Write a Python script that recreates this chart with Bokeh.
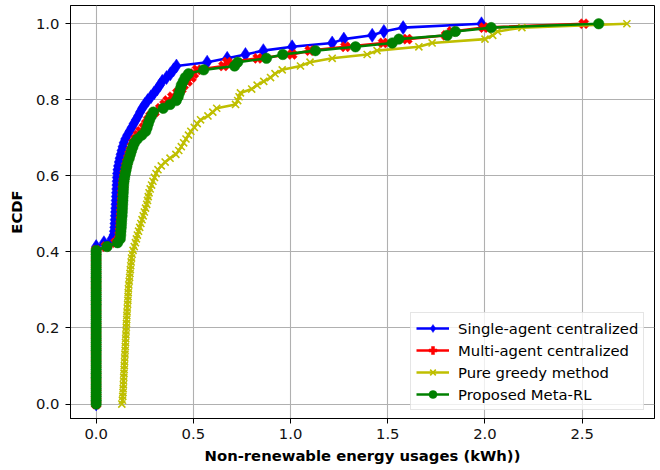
import numpy as np
from bokeh.plotting import figure
from bokeh.models import Legend, LegendItem, FixedTicker, Range1d, PrintfTickFormatter
from bokeh.embed import file_html
from bokeh.resources import INLINE

# Per-episode non-renewable energy usage samples (kWh), 100 per method
single_agent = [0.0] * 42 + [
    0.040, 0.080, 0.090, 0.092, 0.094, 0.095, 0.096, 0.097, 0.098, 0.099,
    0.100, 0.101, 0.102, 0.103, 0.104, 0.105, 0.106, 0.107, 0.108, 0.110,
    0.113, 0.117, 0.121, 0.126, 0.131, 0.136, 0.142, 0.150, 0.160, 0.172,
    0.183, 0.193, 0.205, 0.216, 0.226, 0.237, 0.250, 0.265, 0.282, 0.298,
    0.314, 0.327, 0.340, 0.362, 0.382, 0.398, 0.413, 0.571, 0.674, 0.768,
    0.860, 1.008, 1.214, 1.274, 1.420, 1.480, 1.579, 1.982]

multi_agent = [0.0] * 41 + [
    0.050, 0.100, 0.118, 0.121, 0.123, 0.125, 0.126, 0.127, 0.129,
    0.130, 0.131, 0.132, 0.133, 0.134, 0.135, 0.137, 0.139, 0.141, 0.144,
    0.147, 0.151, 0.155, 0.160, 0.166, 0.172, 0.178, 0.185, 0.193, 0.203,
    0.215, 0.228, 0.245, 0.258, 0.268, 0.280, 0.300, 0.330, 0.352, 0.368,
    0.392, 0.418, 0.438, 0.450, 0.470, 0.490, 0.502, 0.519, 0.655, 0.674,
    0.831, 1.008, 1.099, 1.282, 1.476, 1.600, 1.800, 1.830, 1.994, 2.508]

pure_greedy = [
    0.132, 0.135, 0.137, 0.138, 0.139, 0.140, 0.141, 0.142, 0.143, 0.144,
    0.145, 0.146, 0.147, 0.148, 0.149, 0.150, 0.151, 0.152, 0.153, 0.154,
    0.155, 0.156, 0.157, 0.158, 0.159, 0.160, 0.162, 0.163, 0.164, 0.165,
    0.166, 0.168, 0.170, 0.172, 0.174, 0.176, 0.178, 0.180, 0.182, 0.185,
    0.190, 0.196, 0.202, 0.207, 0.212, 0.218, 0.224, 0.230, 0.236, 0.242,
    0.248, 0.254, 0.260, 0.264, 0.268, 0.272, 0.278, 0.285, 0.292, 0.300,
    0.308, 0.318, 0.335, 0.355, 0.380, 0.410, 0.425, 0.438, 0.450, 0.462,
    0.475, 0.487, 0.505, 0.520, 0.537, 0.575, 0.600, 0.620, 0.717, 0.728,
    0.735, 0.742, 0.800, 0.828, 0.862, 0.897, 0.920, 0.957, 1.051, 1.100,
    1.214, 1.394, 1.445, 1.660, 1.728, 2.000, 2.040, 2.065, 2.190, 2.730]

meta_rl = [0.0] * 41 + [
    0.056, 0.110, 0.124, 0.126, 0.127, 0.129, 0.130, 0.131, 0.133,
    0.134, 0.135, 0.136, 0.137, 0.138, 0.139, 0.140, 0.141, 0.143, 0.146,
    0.150, 0.154, 0.158, 0.163, 0.170, 0.176, 0.182, 0.189, 0.197, 0.212,
    0.235, 0.255, 0.262, 0.268, 0.275, 0.284, 0.294, 0.345, 0.380, 0.412,
    0.422, 0.428, 0.433, 0.438, 0.448, 0.458, 0.475, 0.553, 0.712, 0.728,
    0.876, 0.960, 1.128, 1.334, 1.523, 1.557, 1.806, 1.848, 2.032, 2.585]

series_names = ["Single-agent centralized", "Multi-agent centralized",
                "Pure greedy method", "Proposed Meta-RL"]

x_ticks = [0.0, 0.5, 1.0, 1.5, 2.0, 2.5]
y_ticks = [0.0, 0.2, 0.4, 0.6, 0.8, 1.0]


def ecdf(samples):
    xs = np.sort(np.asarray(samples, dtype=float))
    ys = np.arange(len(xs)) / (len(xs) - 1)
    return xs, ys


FONT = "DejaVu Sans"
FONT_SIZE = "14.8px"

p = figure(width=660, height=470, output_backend="svg", toolbar_location=None,
           x_range=Range1d(-0.132, 2.872), y_range=Range1d(-0.038, 1.048),
           min_border_left=70, min_border_right=6, min_border_top=5,
           min_border_bottom=52)

p.background_fill_color = "white"
p.border_fill_color = "white"
p.outline_line_color = "black"
p.outline_line_width = 1

styles = [
    dict(color="#0000ff", marker="diamond", size=14, angle=0.0, lw=0),
    dict(color="#ff0000", marker="plus", size=10.5, angle=np.pi / 4, lw=0),
    dict(color="#bfbf00", marker="x", size=10, angle=0.0, lw=1.6),
    dict(color="#008000", marker="circle", size=10.5, angle=0.0, lw=0),
]

items = []
for samples, name, st in zip([single_agent, multi_agent, pure_greedy, meta_rl],
                             series_names, styles):
    xs, ys = ecdf(samples)
    ln = p.line(xs, ys, line_color=st["color"], line_width=2.6)
    if st["marker"] == "x":
        sc = p.scatter(xs, ys, marker="x", size=st["size"],
                       line_color=st["color"], line_width=st["lw"])
    else:
        sc = p.scatter(xs, ys, marker=st["marker"], size=st["size"],
                       angle=st["angle"], fill_color=st["color"],
                       line_color=st["color"], line_width=0.5)
    items.append(LegendItem(label=name, renderers=[ln, sc]))

legend = Legend(items=items, location=(340, 8))
legend.label_text_font = FONT
legend.label_text_font_size = FONT_SIZE
legend.label_text_color = "black"
legend.glyph_width = 33
legend.glyph_height = 20
legend.label_height = 20
legend.spacing = 2
legend.padding = 5
legend.margin = 0
legend.label_standoff = 9
legend.border_line_color = "#cccccc"
legend.border_line_width = 1
legend.background_fill_color = "white"
legend.background_fill_alpha = 0.8
p.add_layout(legend, "center")

p.xaxis.ticker = FixedTicker(ticks=x_ticks)
p.yaxis.ticker = FixedTicker(ticks=y_ticks)
p.xaxis.formatter = PrintfTickFormatter(format="%.1f")
p.yaxis.formatter = PrintfTickFormatter(format="%.1f")

p.xaxis.axis_label = "Non-renewable energy usages (kWh))"
p.yaxis.axis_label = "ECDF"

for ax in [p.xaxis[0], p.yaxis[0]]:
    ax.axis_line_color = "black"
    ax.axis_line_width = 1
    ax.major_tick_line_color = "black"
    ax.major_tick_out = 5
    ax.major_tick_in = 0
    ax.minor_tick_line_color = None
    ax.major_label_text_font = FONT
    ax.major_label_text_font_size = FONT_SIZE
    ax.major_label_text_color = "#111111"
    ax.axis_label_text_font = FONT
    ax.axis_label_text_font_size = FONT_SIZE
    ax.axis_label_text_font_style = "bold"
    ax.axis_label_text_color = "black"

p.xaxis.major_label_standoff = 5
p.xaxis.axis_label_standoff = 5
p.yaxis.major_label_standoff = 6
p.yaxis.axis_label_standoff = 8

p.xgrid.grid_line_color = "#b0b0b0"
p.ygrid.grid_line_color = "#b0b0b0"
p.xgrid.grid_line_width = 1.1
p.ygrid.grid_line_width = 1.1

open("out.html", "w").write(file_html(p, INLINE))
